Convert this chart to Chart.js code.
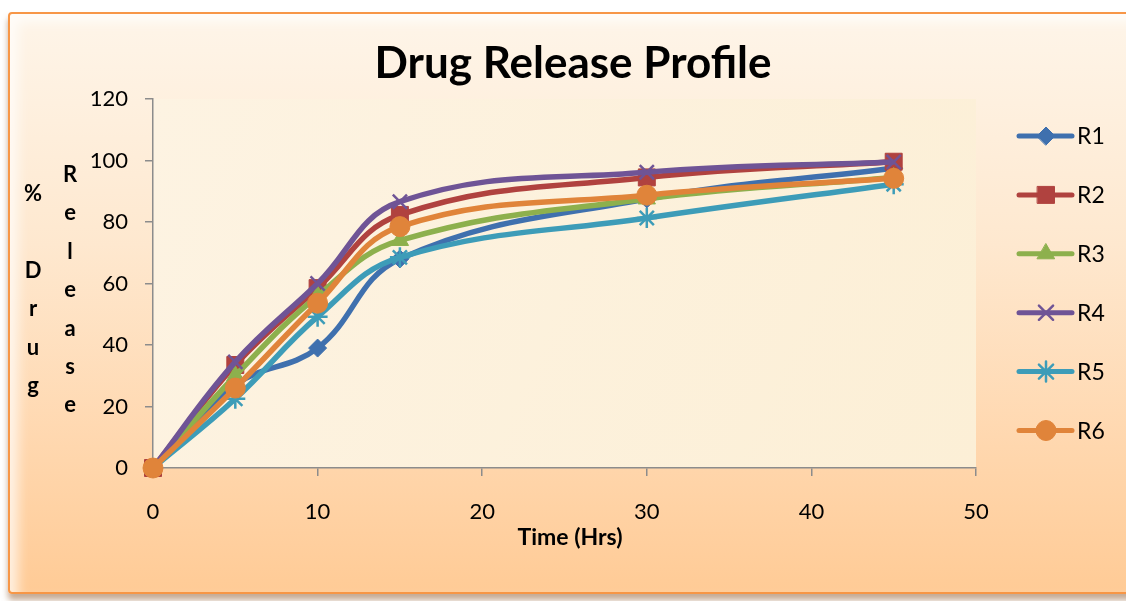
<!DOCTYPE html>
<html>
<head>
<meta charset="utf-8">
<script src="https://cdn.jsdelivr.net/npm/chart.js@4.4.1/dist/chart.umd.min.js"></script>
<style>
  html, body { margin: 0; padding: 0; background: #ffffff; }
  #wrap { position: relative; width: 1126px; height: 601px; overflow: hidden; }
  #frame {
    position: absolute; left: 8px; top: 12px; width: 1124px; height: 578px;
    border: 2px solid #F79646; border-radius: 4px;
    background: linear-gradient(to bottom, #FEF5E9 0%, #FEE8CF 40%, #FFD7AE 75%, #FFCB96 100%);
    box-shadow: inset 8px 8px 12px rgba(255,255,255,0.7), 0 6px 6px rgba(150,100,60,0.55);
  }
  canvas { position: absolute; left: 0; top: 0; }
</style>
</head>
<body>
<div id="wrap">
  <div id="frame"></div>
  <canvas id="c" width="1126" height="601"></canvas>
</div>
<script>
// ---- Data ----
const timeHrs = [0, 5, 10, 15, 30, 45];
const seriesNames = ['R1', 'R2', 'R3', 'R4', 'R5', 'R6'];
const R1 = [0, 27, 39, 68, 87.5, 97.5];
const R2 = [0, 33.5, 58.5, 82.3, 94.5, 99.6];
const R3 = [0, 30, 56, 74, 87.5, 94.5];
const R4 = [0, 34.5, 60, 86.6, 96.2, 99.5];
const R5 = [0, 22.5, 49.2, 68.5, 81.3, 92.3];
const R6 = [0, 26, 53.6, 78.5, 88.7, 94.2];
const xTicks = [0, 10, 20, 30, 40, 50];
const yTicks = [0, 20, 40, 60, 80, 100, 120];
const chartTitle = 'Drug Release Profile';
const xTitle = 'Time (Hrs)';
const yTitleCol1 = ['%', '', 'D', 'r', 'u', 'g'];
const yTitleCol2 = ['R', 'e', 'l', 'e', 'a', 's', 'e'];

// ---- Styles ----
const colors = ['#3F70AE', '#B0423F', '#8DB04D', '#6F5496', '#3D9CB8', '#E0843A'];
const styles = ['rectRot', 'rect', 'triangle', 'crossRot', 'star', 'circle'];
const radii = [9, 12, 10, 10, 10, 10];
const allSeries = [R1, R2, R3, R4, R5, R6];
const FONT = 'Lato, "Open Sans", "DejaVu Sans", sans-serif';

const datasets = allSeries.map((vals, i) => ({
  label: seriesNames[i],
  data: timeHrs.map((t, k) => ({ x: t, y: vals[k] })),
  borderColor: colors[i],
  backgroundColor: colors[i],
  pointBackgroundColor: colors[i],
  pointBorderColor: colors[i],
  pointStyle: styles[i],
  pointRadius: radii[i],
  pointHoverRadius: radii[i],
  pointBorderWidth: (styles[i] === 'crossRot' || styles[i] === 'star') ? 2.5 : 1,
  borderWidth: 5.5,
  tension: 0.4,
  fill: false,
  clip: false,
  order: allSeries.length - i
}));

const bgPlugin = {
  id: 'plotBg',
  beforeDraw(chart) {
    const { ctx, chartArea: { left, top, right, bottom } } = chart;
    ctx.save();
    const g = ctx.createLinearGradient(left, top, right, bottom);
    g.addColorStop(0, '#FDF3E2');
    g.addColorStop(1, '#FCEFD6');
    ctx.fillStyle = g;
    ctx.fillRect(left, top, right - left, bottom - top);
    ctx.restore();
  }
};

const decorPlugin = {
  id: 'decor',
  afterDraw(chart) {
    const ctx = chart.ctx;
    const area = chart.chartArea;
    ctx.save();
    ctx.fillStyle = '#000';
    ctx.textAlign = 'center';
    ctx.textBaseline = 'middle';
    // Title
    ctx.font = 'bold 44px ' + FONT;
    ctx.fillText(chartTitle, 573, 64);
    // X axis title
    ctx.font = 'bold 23px ' + FONT;
    ctx.fillText(xTitle, 570, 538);
    // Y axis title (stacked letters)
    ctx.font = 'bold 22px ' + FONT;
    yTitleCol1.forEach((ch, i) => ctx.fillText(ch, 33, 194 + i * 38.4));
    yTitleCol2.forEach((ch, i) => ctx.fillText(ch, 70, 175 + i * 38.4));
    // Legend
    const legY0 = 136, legStep = 58.9;
    chart.data.datasets.forEach((ds, i) => {
      const y = legY0 + i * legStep;
      ctx.strokeStyle = ds.borderColor;
      ctx.lineWidth = 5;
      ctx.lineCap = 'round';
      ctx.beginPath();
      ctx.moveTo(1019, y);
      ctx.lineTo(1072, y);
      ctx.stroke();
      ctx.fillStyle = ds.pointBackgroundColor;
      ctx.strokeStyle = ds.pointBorderColor;
      ctx.lineWidth = ds.pointBorderWidth;
      Chart.helpers.drawPoint(ctx, {
        pointStyle: ds.pointStyle, radius: ds.pointRadius, borderWidth: ds.pointBorderWidth, rotation: 0
      }, 1046, y);
      ctx.fillStyle = '#000';
      ctx.textAlign = 'left';
      ctx.font = '23px ' + FONT;
      ctx.fillText(ds.label, 1077, y + 1);
    });
    ctx.restore();
  }
};

new Chart(document.getElementById('c'), {
  type: 'line',
  data: { datasets },
  options: {
    responsive: false,
    animation: false,
    devicePixelRatio: 1,
    layout: { padding: { top: 99, left: 83, right: 150, bottom: 53 } },
    plugins: { legend: { display: false }, title: { display: false }, tooltip: { enabled: false } },
    scales: {
      x: {
        type: 'linear',
        min: xTicks[0], max: xTicks[xTicks.length - 1],
        afterBuildTicks: s => { s.ticks = xTicks.map(v => ({ value: v })); },
        afterFit: s => { s.height = 80; },
        grid: { drawOnChartArea: false, drawTicks: true, tickLength: 8, color: '#8C8C8C', lineWidth: 1.5 },
        border: { color: '#8C8C8C', width: 1.5 },
        ticks: { padding: 23, color: '#000', font: { family: FONT, size: 22 }, maxRotation: 0 }
      },
      y: {
        min: yTicks[0], max: yTicks[yTicks.length - 1],
        afterBuildTicks: s => { s.ticks = yTicks.map(v => ({ value: v })); },
        afterFit: s => { s.width = 70; },
        grid: { drawOnChartArea: false, drawTicks: true, tickLength: 8, color: '#8C8C8C', lineWidth: 1.5 },
        border: { color: '#8C8C8C', width: 1.5 },
        ticks: { padding: 17, color: '#000', font: { family: FONT, size: 22 } }
      }
    }
  },
  plugins: [bgPlugin, decorPlugin]
});
</script>
</body>
</html>
